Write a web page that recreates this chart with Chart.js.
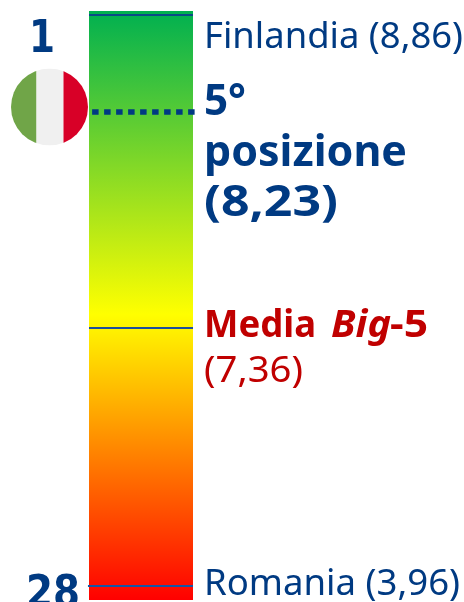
<!DOCTYPE html>
<html lang="it">
<head>
<meta charset="utf-8">
<title>Posizione Italia</title>
<script src="https://cdn.jsdelivr.net/npm/chart.js@4"></script>
<style>
html,body{margin:0;padding:0;background:#fff;overflow:hidden}
canvas{display:block}
</style>
</head>
<body>
<canvas id="c" width="464" height="602"></canvas>
<script>
// Ranking scores
const countries = ['Finlandia', 'Italia', 'Media Big-5', 'Romania'];
const scores = [8.86, 8.23, 7.36, 3.96];
const topRank = 1;
const bottomRank = 28;
const italyRank = 5;
const scaleEnds = [3.78, 8.88];

// The column is not proportional: each reference score has its own place along it.
const axisValues = [3.78, 3.96, 7.36, 8.23, 8.86, 8.88];
const axisFractions = [1, 0.9762, 0.5382, 0.1715, 0.0068, 0];

const NAVY = '#003a82';
const RED = '#c00000';
const FONT = '"Noto Sans"';
const NUMERAL_FONT = '"DejaVu Sans"';

class SegmentedScale extends Chart.LinearScale {
  static id = 'segmented';
  static defaults = Chart.LinearScale.defaults;
  getPixelForValue(v) {
    let i = 0;
    while (i < axisValues.length - 2 && v > axisValues[i + 1]) i++;
    const t = (v - axisValues[i]) / (axisValues[i + 1] - axisValues[i]);
    const f = axisFractions[i] + t * (axisFractions[i + 1] - axisFractions[i]);
    return this.top + f * this.height;
  }
}
Chart.register(SegmentedScale);

const fmt = v => v.toFixed(2).replace('.', ',');

const markLine = (value, color, width, from, to, dash) => ({
  type: 'line',
  data: [{ x: from, y: value }, { x: to, y: value }],
  borderColor: color,
  borderWidth: width,
  borderDash: dash || [],
  pointRadius: 0,
  clip: false,
  order: 1
});

// Draws a string stretched or squeezed sideways so it spans the given width.
function text(ctx, str, x, y, size, weight, color, width, style, family) {
  ctx.font = `${style || 'normal'} ${weight} ${size}px ${family || FONT}`;
  ctx.fillStyle = color;
  ctx.textAlign = 'left';
  ctx.textBaseline = 'alphabetic';
  ctx.save();
  ctx.translate(x, y);
  ctx.scale(width / ctx.measureText(str).width, 1);
  ctx.fillText(str, 0, 0);
  ctx.restore();
}

const annotations = {
  id: 'annotations',
  afterDatasetsDraw(chart) {
    const { ctx, scales: { y } } = chart;
    const [fin, ita, med, rom] = scores.map(v => y.getPixelForValue(v));
    ctx.save();

    // Rank numbers beside the column
    text(ctx, String(topRank), 29, fin + 37, 44, 'bold', NAVY, 26, 'normal', NUMERAL_FONT);
    text(ctx, String(bottomRank), 26, rom + 21, 44, 'bold', NAVY, 54, 'normal', NUMERAL_FONT);

    // Flag badge
    const cx = 49.5, cy = ita - 5, r = 38.5;
    ctx.save();
    ctx.beginPath();
    ctx.arc(cx, cy, r, 0, Math.PI * 2);
    ctx.clip();
    ctx.fillStyle = '#70a548';
    ctx.fillRect(cx - r, cy - r, 25.5, r * 2);
    ctx.fillStyle = '#f0f0f0';
    ctx.fillRect(cx - r + 25.5, cy - r, 27, r * 2);
    ctx.fillStyle = '#d80027';
    ctx.fillRect(cx - r + 52.5, cy - r, 26, r * 2);
    ctx.restore();

    // Labels to the right of the column
    text(ctx, `${countries[0]} (${fmt(scores[0])})`, 204, fin + 33, 36, 'normal', NAVY, 259);
    text(ctx, `${italyRank}°`, 204, ita + 3, 43, 'bold', NAVY, 42);
    text(ctx, 'posizione', 204, ita + 54, 43, 'bold', NAVY, 203);
    text(ctx, `(${fmt(scores[1])})`, 204, ita + 104, 43, 'bold', NAVY, 134);

    text(ctx, 'Media', 204, med + 9, 37, 'bold', RED, 112);
    text(ctx, 'Big', 331, med + 9, 37, 'bold', RED, 60, 'italic');
    text(ctx, '-5', 390, med + 9, 37, 'bold', RED, 38);
    text(ctx, `(${fmt(scores[2])})`, 204, med + 54, 36, 'normal', RED, 99);
    text(ctx, `${countries[3]} (${fmt(scores[3])})`, 204, rom + 9, 36, 'normal', NAVY, 256);
    ctx.restore();
  }
};

new Chart(document.getElementById('c'), {
  type: 'bar',
  data: {
    datasets: [
      markLine(scores[0], '#0b4a86', 2, 0, 1),
      markLine(scores[1], NAVY, 5.5, 0.03, 1.02, [6.5, 5.5]),
      markLine(scores[2], '#1d4f9a', 2, 0, 1),
      markLine(scores[3], '#1456a8', 2, -0.01, 1),
      {
        type: 'bar',
        data: [{ x: 0.5, y: scaleEnds }],
        barThickness: 104,
        borderSkipped: false,
        order: 2,
        backgroundColor(c) {
          const area = c.chart.chartArea;
          if (!area) return '#00b050';
          const g = c.chart.ctx.createLinearGradient(0, area.top, 0, area.bottom);
          g.addColorStop(0, '#00b050');
          g.addColorStop(0.515, '#ffff00');
          g.addColorStop(1, '#ff0000');
          return g;
        }
      }
    ]
  },
  options: {
    responsive: false,
    animation: false,
    layout: { padding: { left: 89, right: 271, top: 11, bottom: 2 } },
    plugins: { legend: { display: false }, tooltip: { enabled: false } },
    scales: {
      x: { type: 'linear', min: 0, max: 1, offset: false, display: false },
      y: { type: 'segmented', min: scaleEnds[0], max: scaleEnds[1], display: false }
    }
  },
  plugins: [annotations]
});
</script>
</body>
</html>
